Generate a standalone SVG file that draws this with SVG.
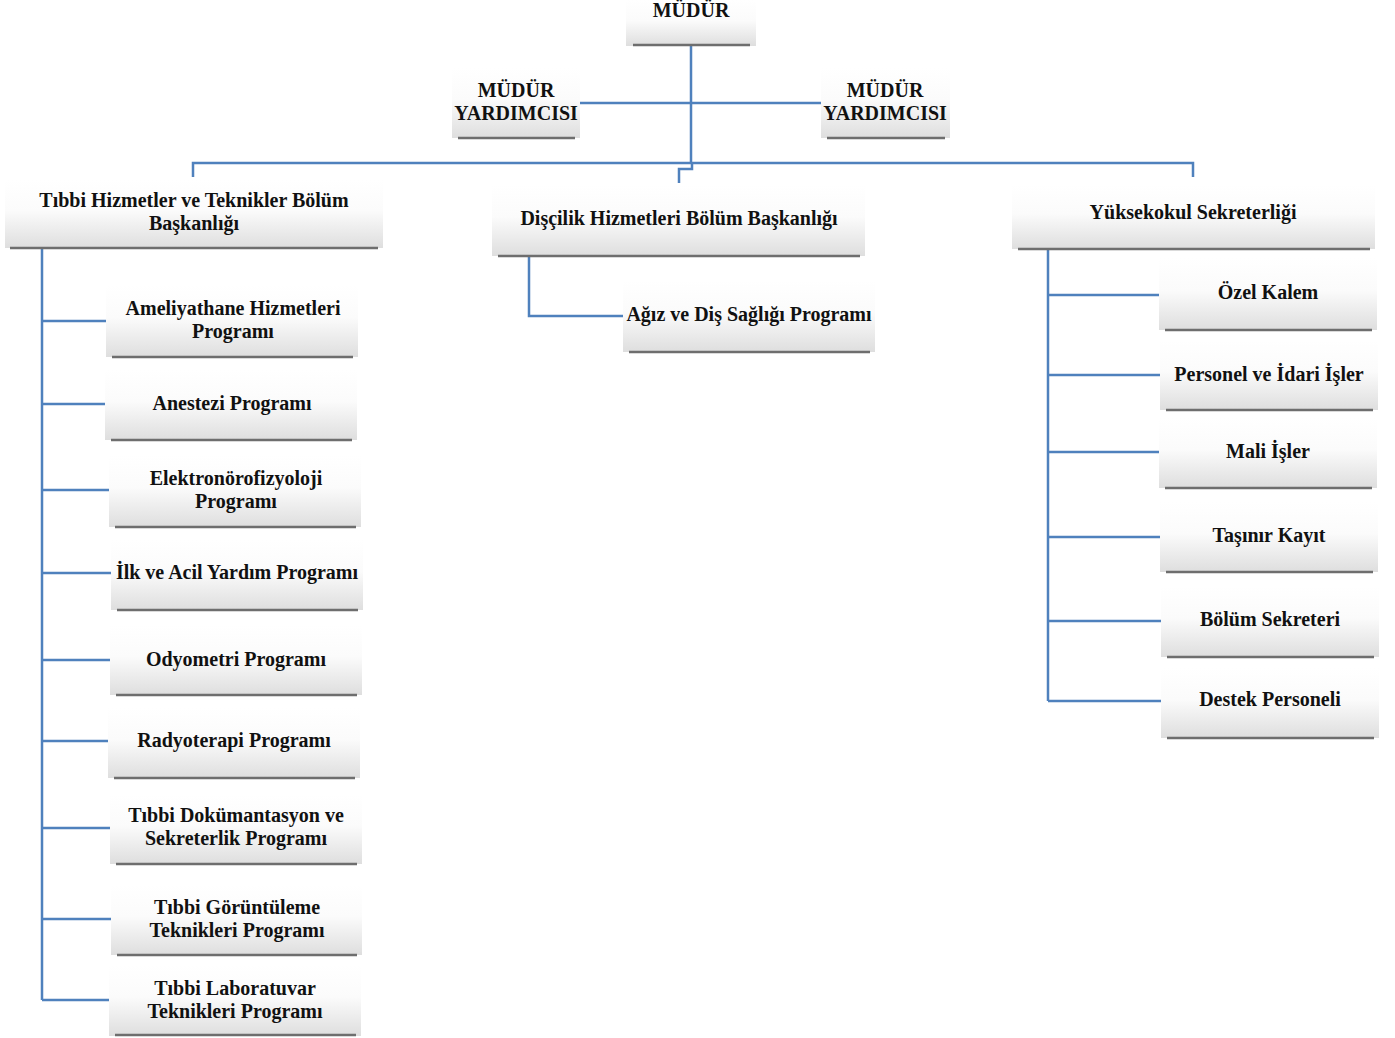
<svg xmlns="http://www.w3.org/2000/svg" width="1395" height="1038" viewBox="0 0 1395 1038">
<defs>
<linearGradient id="g" x1="0" y1="0" x2="0" y2="1">
<stop offset="0" stop-color="#ffffff"/>
<stop offset="0.45" stop-color="#fbfbfb"/>
<stop offset="1" stop-color="#dedede"/>
</linearGradient>
</defs>
<style>
.box{fill:url(#g)}
.sh{stroke:#6e6e6e;stroke-width:2.5;fill:none}
.t{font-family:"Liberation Serif","Times New Roman",serif;font-weight:bold;font-size:20px;fill:#111;text-anchor:middle;letter-spacing:0px}
.c{stroke:#4f81bd;stroke-width:2.5;fill:none}
</style>
<rect width="1395" height="1038" fill="#ffffff"/>
<g id="connectors">
<path class="c" d="M691,46 V163 M580,103 H821 M193,177 V163 H1193 V177 M692,163 V169 H679 V183"/>
<path class="c" d="M42,249 V1000 M42,321 H106 M42,404 H105 M42,490 H109 M42,573 H111 M42,660 H110 M42,741 H108 M42,828 H110 M42,919 H111 M42,1000 H109"/>
<path class="c" d="M529,256 V316 H623"/>
<path class="c" d="M1048,250 V701 M1048,295 H1159 M1048,375 H1160 M1048,452 H1159 M1048,537 H1160 M1048,621 H1161 M1048,701 H1161"/>
</g>
<g id="mudur"><rect class="box" x="626" y="0" width="130" height="46"/><path class="sh" d="M633,45 H750"/><text class="t" x="691" y="17">MÜDÜR</text></g>
<g id="yard1"><rect class="box" x="452" y="68" width="128" height="70"/><path class="sh" d="M458,138 H575"/><text class="t" x="516" y="97">MÜDÜR</text><text class="t" x="516" y="120">YARDIMCISI</text></g>
<g id="yard2"><rect class="box" x="821" y="68" width="129" height="70"/><path class="sh" d="M827,138 H945"/><text class="t" x="885" y="97">MÜDÜR</text><text class="t" x="885" y="120">YARDIMCISI</text></g>
<g id="tibbi"><rect class="box" x="5" y="180" width="378" height="68"/><path class="sh" d="M10,248 H378"/><text class="t" x="194" y="207">Tıbbi Hizmetler ve Teknikler Bölüm</text><text class="t" x="194" y="230">Başkanlığı</text></g>
<g id="discilik"><rect class="box" x="492" y="185" width="373" height="71"/><path class="sh" d="M498,256 H860"/><text class="t" x="679" y="225">Dişçilik Hizmetleri  Bölüm Başkanlığı</text></g>
<g id="yuksekokul"><rect class="box" x="1012" y="185" width="363" height="64"/><path class="sh" d="M1018,249 H1370"/><text class="t" x="1193" y="219">Yüksekokul Sekreterliği</text></g>
<g id="ameliyat"><rect class="box" x="106" y="285" width="252" height="72"/><path class="sh" d="M112,357 H353"/><text class="t" x="233" y="315">Ameliyathane Hizmetleri</text><text class="t" x="233" y="338">Programı</text></g>
<g id="anestezi"><rect class="box" x="105" y="370" width="252" height="70"/><path class="sh" d="M111,440 H352"/><text class="t" x="232" y="410">Anestezi Programı</text></g>
<g id="elektro"><rect class="box" x="109" y="455" width="252" height="72"/><path class="sh" d="M115,527 H356"/><text class="t" x="236" y="485">Elektronörofizyoloji</text><text class="t" x="236" y="508">Programı</text></g>
<g id="ilk"><rect class="box" x="111" y="540" width="252" height="70"/><path class="sh" d="M117,610 H358"/><text class="t" x="237" y="579">İlk ve Acil Yardım Programı</text></g>
<g id="odyo"><rect class="box" x="110" y="625" width="252" height="70"/><path class="sh" d="M116,695 H357"/><text class="t" x="236" y="666">Odyometri Programı</text></g>
<g id="radyo"><rect class="box" x="108" y="708" width="252" height="70"/><path class="sh" d="M114,778 H355"/><text class="t" x="234" y="747">Radyoterapi Programı</text></g>
<g id="dokuman"><rect class="box" x="110" y="795" width="252" height="69"/><path class="sh" d="M116,864 H357"/><text class="t" x="236" y="822">Tıbbi Dokümantasyon ve</text><text class="t" x="236" y="845">Sekreterlik Programı</text></g>
<g id="goruntu"><rect class="box" x="111" y="885" width="251" height="70"/><path class="sh" d="M117,955 H357"/><text class="t" x="237" y="914">Tıbbi Görüntüleme</text><text class="t" x="237" y="937">Teknikleri Programı</text></g>
<g id="lab"><rect class="box" x="109" y="965" width="252" height="71"/><path class="sh" d="M115,1035 H356"/><text class="t" x="235" y="995">Tıbbi Laboratuvar</text><text class="t" x="235" y="1018">Teknikleri Programı</text></g>
<g id="agiz"><rect class="box" x="623" y="280" width="252" height="72"/><path class="sh" d="M629,352 H870"/><text class="t" x="749" y="321">Ağız ve Diş Sağlığı Programı</text></g>
<g id="ozel"><rect class="box" x="1159" y="258" width="218" height="72"/><path class="sh" d="M1165,330 H1372"/><text class="t" x="1268" y="299">Özel Kalem</text></g>
<g id="personel"><rect class="box" x="1160" y="340" width="218" height="70"/><path class="sh" d="M1166,410 H1373"/><text class="t" x="1269" y="381">Personel ve İdari İşler</text></g>
<g id="mali"><rect class="box" x="1159" y="418" width="218" height="70"/><path class="sh" d="M1165,488 H1372"/><text class="t" x="1268" y="458">Mali İşler</text></g>
<g id="tasinir"><rect class="box" x="1160" y="502" width="218" height="70"/><path class="sh" d="M1166,572 H1373"/><text class="t" x="1269" y="542">Taşınır Kayıt</text></g>
<g id="bolumsek"><rect class="box" x="1161" y="586" width="218" height="71"/><path class="sh" d="M1167,657 H1374"/><text class="t" x="1270" y="626">Bölüm Sekreteri</text></g>
<g id="destek"><rect class="box" x="1161" y="668" width="218" height="70"/><path class="sh" d="M1167,738 H1374"/><text class="t" x="1270" y="706">Destek Personeli</text></g>
</svg>
